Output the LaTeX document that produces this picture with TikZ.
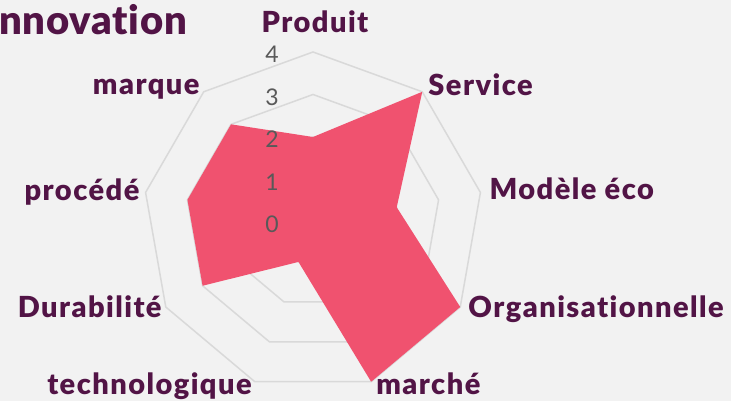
\documentclass[tikz,border=0pt]{standalone}
\usepackage{fontspec}
\setmainfont{Lato}[Ligatures=NoCommon]
\newfontfamily\labelfont{Lato}[BoldFont={Lato Black},LetterSpace=5,Ligatures=NoCommon]
\newfontfamily\titlefont{Lato}[BoldFont={Lato Black},LetterSpace=2,Ligatures=NoCommon]
\usetikzlibrary{calc}
\definecolor{chartbg}{HTML}{F2F2F2}
\definecolor{gridgray}{HTML}{D9D9D9}
\definecolor{radarpink}{HTML}{F0526F}
\definecolor{labelplum}{HTML}{521446}
\definecolor{tickgray}{HTML}{595959}
\tikzset{
  axislabel/.style={font=\labelfont\fontsize{29}{30}\selectfont\bfseries,text=labelplum,inner sep=2pt},
  ticklabel/.style={font=\fontsize{23}{24}\selectfont,text=tickgray,inner sep=2pt,anchor=base east},
  gridring/.style={draw=gridgray,line width=1.5pt},
}
\begin{document}
\begin{tikzpicture}[x=1pt,y=1pt]
    %% Background
    \fill[chartbg] (0,0) rectangle (731,401);
    \useasboundingbox (0,0) rectangle (731,401);
    %% Title
    \node[axislabel,font=\titlefont\fontsize{40}{42}\selectfont\bfseries,anchor=base west] (title) at (-3,366) {nnovation};
    \begin{scope}[shift={(313,179)}]
        %% Rings
        \foreach \r in {1,...,4}
            \draw[gridring] (90:\r*42.5) \foreach \i in {1,...,8}{ -- ({90-40*\i}:{\r*42.5})} -- cycle;
        %% Outer vertices
        \foreach \i in {0,...,8}
            \coordinate (v\i) at ({90-40*\i}:170);
        %% Data
        \fill[radarpink] (90:85) \foreach \v [count=\i from 1] in {4,2,4,4,1,3,3,3}{ -- ({90-40*\i}:{\v*42.5})} -- cycle;
        %% Scale
        \foreach \v in {0,...,4}
            \node[ticklabel] (t\v) at (-32,{\v*42.5-11}) {\v};
    \end{scope}
    %% Axis labels
    \node[axislabel,anchor=base] (produit) at ([xshift=2pt,yshift=19pt]v0) {Produit};
    \node[axislabel,anchor=base west] (service) at ([xshift=4pt,yshift=-4pt]v1) {Service};
    \node[axislabel,anchor=base west] (modele) at ([xshift=7pt,yshift=-7pt]v2) {Modèle éco};
    \node[axislabel,anchor=base west] (orga) at ([xshift=6pt,yshift=-11pt]v3) {Organisationnelle};
    \node[axislabel,anchor=base west] (marche) at ([xshift=3pt,yshift=-13pt]v4) {marché};
    \node[axislabel,anchor=base east] (techno) at ([xshift=-1pt,yshift=-13pt]v5) {technologique};
    \node[axislabel,anchor=base east] (durab) at ([xshift=-2pt,yshift=-11pt]v6) {Durabilité};
    \node[axislabel,anchor=base east] (procede) at ([xshift=-4pt,yshift=-8pt]v7) {procédé};
    \node[axislabel,anchor=base east] (marque) at ([xshift=-2pt,yshift=-3pt]v8) {marque};
\end{tikzpicture}
\end{document}
